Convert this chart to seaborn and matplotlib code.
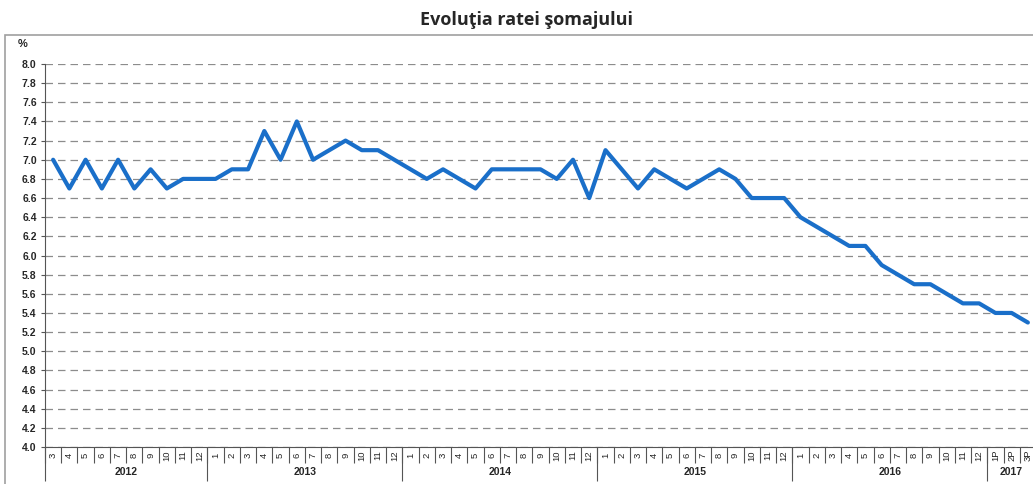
import matplotlib
matplotlib.use('Agg')
import pandas as pd
import seaborn as sns
import matplotlib.pyplot as plt
from matplotlib.patches import Rectangle

# unemployment rate, monthly, 2012-03 .. 2017-03 (2017 provisional)
years = ['2012', '2013', '2014', '2015', '2016', '2017']
months_2012 = ['3', '4', '5', '6', '7', '8', '9', '10', '11', '12']
months_full = ['1', '2', '3', '4', '5', '6', '7', '8', '9', '10', '11', '12']
months_2017 = ['1P', '2P', '3P']

rate_2012 = [7.0, 6.7, 7.0, 6.7, 7.0, 6.7, 6.9, 6.7, 6.8, 6.8]
rate_2013 = [6.8, 6.9, 6.9, 7.3, 7.0, 7.4, 7.0, 7.1, 7.2, 7.1, 7.1, 7.0]
rate_2014 = [6.9, 6.8, 6.9, 6.8, 6.7, 6.9, 6.9, 6.9, 6.9, 6.8, 7.0, 6.6]
rate_2015 = [7.1, 6.9, 6.7, 6.9, 6.8, 6.7, 6.8, 6.9, 6.8, 6.6, 6.6, 6.6]
rate_2016 = [6.4, 6.3, 6.2, 6.1, 6.1, 5.9, 5.8, 5.7, 5.7, 5.6, 5.5, 5.5]
rate_2017 = [5.4, 5.4, 5.3]

y_ticks = [4.0 + 0.2 * i for i in range(21)]


def main():
    sns.set_style('white')
    plt.rcParams['font.family'] = ['Liberation Sans', 'DejaVu Sans']

    month_groups = [months_2012, months_full, months_full, months_full,
                    months_full, months_2017]
    rate_groups = [rate_2012, rate_2013, rate_2014, rate_2015, rate_2016,
                   rate_2017]
    labels = [m for g in month_groups for m in g]
    rates = [r for g in rate_groups for r in g]
    df = pd.DataFrame({'idx': range(len(rates)), 'rate': rates})

    fig = plt.figure(figsize=(10.33, 4.84), dpi=100)
    ax = fig.add_axes([45 / 1033, 37 / 484, 991 / 1033, 383 / 484])

    sns.lineplot(data=df, x='idx', y='rate', ax=ax, color='#1a6fc9',
                 linewidth=3.0, zorder=3)

    ax.set_xlim(-0.5, len(rates) - 0.5)
    ax.set_ylim(4.0, 8.0)
    ax.set_yticks(y_ticks)
    ax.set_yticklabels(['%.1f' % v for v in y_ticks], fontsize=7.5,
                       fontweight='bold')
    ax.yaxis.grid(True, color='#8c8c8c', linestyle=(0, (6, 4)),
                  linewidth=0.9)
    ax.tick_params(axis='y', length=3, width=0.8, color='#555555', pad=3,
                   left=True)

    ax.set_xticks(range(len(labels)))
    ax.set_xticklabels(labels, rotation=90, fontsize=6.8)
    for t in ax.get_xticklabels():
        t.set_va('center')
    ax.tick_params(axis='x', length=0, pad=6)
    ax.set_xticks([i - 0.5 for i in range(len(labels) + 1)], minor=True)
    ax.tick_params(axis='x', which='minor', length=11.5, width=0.8,
                   color='#555555', bottom=True)

    ax.set_xlabel('')
    ax.set_ylabel('')
    for side in ['top', 'right']:
        ax.spines[side].set_visible(False)
    for side in ['left', 'bottom']:
        ax.spines[side].set_color('#555555')
        ax.spines[side].set_linewidth(0.8)

    # year separators and labels
    trans = ax.get_xaxis_transform()
    start = 0
    bounds = [-0.5]
    for year, group in zip(years, month_groups):
        end = start + len(group)
        ax.text((start + end - 1) / 2, -0.066, year, transform=trans,
                ha='center', va='center', fontsize=7.5, fontweight='bold')
        bounds.append(end - 0.5)
        start = end
    ax.vlines(bounds, 0, -0.09, transform=trans, color='#555555',
              linewidth=0.8, clip_on=False)

    fig.text(18 / 1033, 1 - 44 / 484, '%', fontsize=8, fontweight='bold',
             ha='left', va='center')
    fig.text(526 / 1033, 1 - 20 / 484, 'Evoluţia ratei şomajului',
             family=['Open Sans', 'DejaVu Sans'], fontsize=13,
             fontweight='bold', ha='center', va='center')

    fig.patches.append(Rectangle((5 / 1033, -0.02), 1.1, 1 - 35 / 484 + 0.02,
                                 transform=fig.transFigure, fill=False,
                                 edgecolor='#a0a0a0', linewidth=1.2))

    fig.savefig('out.png', dpi=100)


if __name__ == '__main__':
    main()
